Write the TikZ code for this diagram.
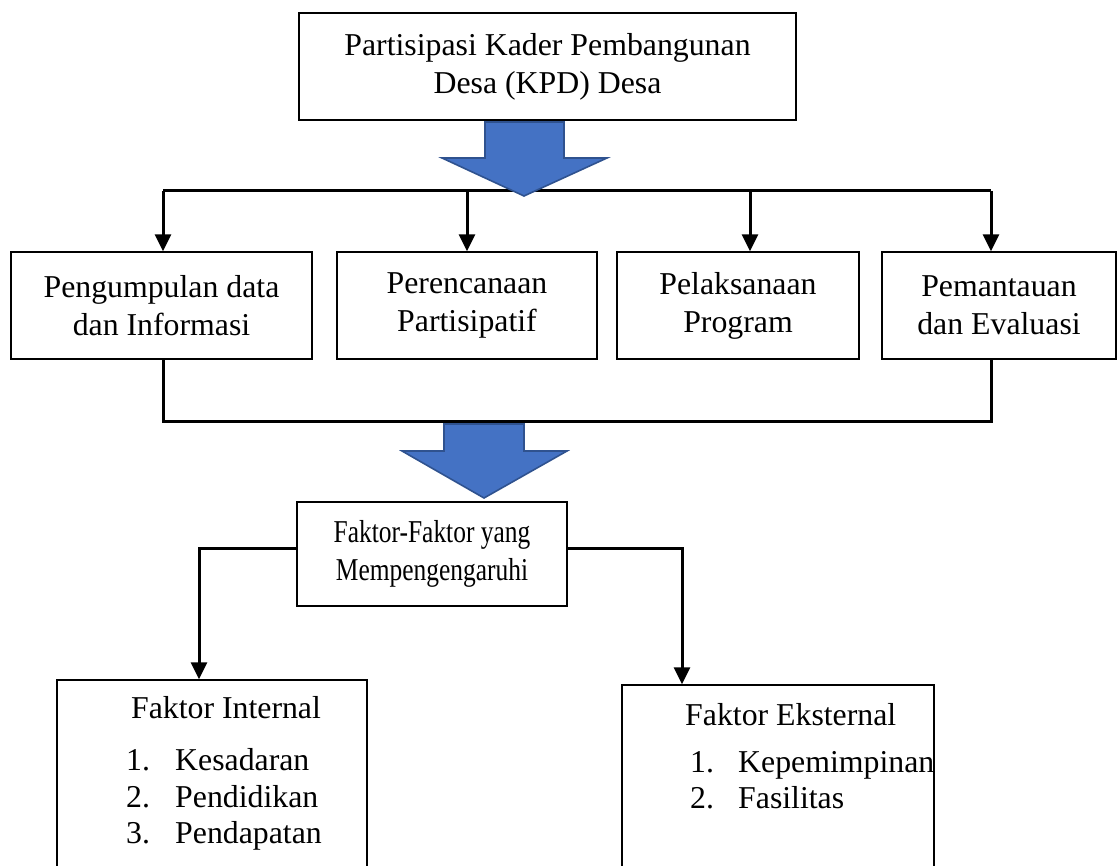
\documentclass[tikz,border=0pt]{standalone}
\usepackage{fontspec}
\setmainfont{Liberation Serif}
\newfontfamily\condensedserif[FakeStretch=0.8]{Liberation Serif}
\usetikzlibrary{arrows.meta}
\definecolor{blkfill}{HTML}{4472C4}
\definecolor{blkedge}{HTML}{2F528F}
\begin{document}
\begin{tikzpicture}[x=1pt,y=-1pt,
  box/.style={draw=black,line width=1.4pt,rectangle,inner sep=0pt,align=center,
    font=\fontsize{31.8}{38}\selectfont},
  conn/.style={line width=3pt,black},
  arr/.style={conn,-{Triangle[width=16pt,length=17pt]}},
  blockarrow/.style={fill=blkfill,draw=blkedge,line width=1.6pt,line join=miter},
  txt/.style={inner sep=0pt,font=\fontsize{31.8}{37}\selectfont}]
\useasboundingbox (0,0) rectangle (1118,866);
\begin{scope}
\clip (0,0) rectangle (1118,866);
% boxes
\node[box,minimum width=497pt,minimum height=107pt] (top) at (547.5,66.5)
  {Partisipasi Kader Pembangunan\\Desa (KPD) Desa};
\node[box,minimum width=301pt,minimum height=107pt] (b1) at (161.5,305.5)
  {Pengumpulan data\\dan Informasi};
\node[box,minimum width=260pt,minimum height=107pt] (b2) at (467,305.5)
  {Perencanaan\\Partisipatif};
\node[box,minimum width=242pt,minimum height=107pt] (b3) at (738,305.5)
  {Pelaksanaan\\Program};
\node[box,minimum width=234pt,minimum height=107pt] (b4) at (999,305.5)
  {Pemantauan\\dan Evaluasi};
\node[box,minimum width=270pt,minimum height=104pt,
  font=\condensedserif\fontsize{31.8}{38}\selectfont] (fk) at (432,554)
  {Faktor-Faktor yang\\Mempengengaruhi};
\node[box,minimum width=310pt,minimum height=220pt] (bl) at (212,790) {};
\node[box,minimum width=312pt,minimum height=220pt] (br) at (778,795) {};
% texts in bottom boxes
\node[txt,anchor=base] (blt) at (226,718) {Faktor Internal};
\node[txt,anchor=base west] (bln1) at (126,770) {1.};
\node[txt,anchor=base west] (blx1) at (175,770) {Kesadaran};
\node[txt,anchor=base west] (bln2) at (126,807) {2.};
\node[txt,anchor=base west] (blx2) at (175,807) {Pendidikan};
\node[txt,anchor=base west] (bln3) at (126,843) {3.};
\node[txt,anchor=base west] (blx3) at (175,843) {Pendapatan};
\node[txt,anchor=base west] (brt) at (685,725) {Faktor Eksternal};
\node[txt,anchor=base west] (brn1) at (690,772) {1.};
\node[txt,anchor=base west] (brx1) at (738,772) {Kepemimpinan};
\node[txt,anchor=base west] (brn2) at (690,808) {2.};
\node[txt,anchor=base west] (brx2) at (738,808) {Fasilitas};
% top distribution bus
\coordinate (s1) at (163,191);
\coordinate (s2) at (467,191);
\coordinate (s3) at (750,191);
\coordinate (s4) at (991,191);
\draw[conn] (s1) -- (s4);
\draw[arr] (s1) -- (b1.north -| s1);
\draw[arr] (s2) -- (b2.north -| s2);
\draw[arr] (s3) -- (b3.north -| s3);
\draw[arr] (s4) -- (b4.north -| s4);
% bottom collecting bus
\coordinate (m1) at (163,421);
\coordinate (m4) at (991,421);
\draw[conn] (b1.south -| m1) -- (m1) -- (m4) -- (b4.south -| m4);
% factor branches
\coordinate (fl) at (199,548);
\coordinate (fr) at (682,548);
\draw[arr] (fk.west |- fl) -- (fl) -- (bl.north -| fl);
\draw[arr] (fk.east |- fr) -- (fr) -- (br.north -| fr);
% block arrows
\draw[blockarrow] (485,122) -- (564,122) -- (564,158) -- (607,158) -- (524,196)
  -- (442,158) -- (485,158) -- cycle;
\draw[blockarrow] (444,424) -- (524,424) -- (524,451) -- (567,451) -- (484,498)
  -- (402,451) -- (444,451) -- cycle;
\end{scope}
\end{tikzpicture}
\end{document}
